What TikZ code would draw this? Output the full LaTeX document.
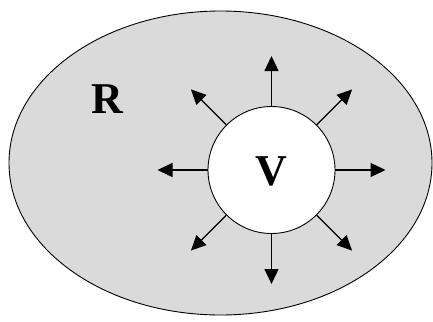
\documentclass[tikz,border=0pt]{standalone}
\usepackage{fontspec}
\setmainfont{Liberation Serif}
\usetikzlibrary{arrows.meta,calc}
\begin{document}
\begin{tikzpicture}[x=1pt,y=-1pt,
  ray/.style={line width=1.3pt,-{Triangle[length=15pt,width=14pt]}},
  lbl/.style={font=\bfseries\fontsize{44}{44}\selectfont,inner sep=0pt}]
\useasboundingbox (0,0) rectangle (433,321);
\draw[line width=0.9pt,fill={rgb,255:red,218;green,218;blue,218}] (220.5,163) ellipse[x radius=211.5pt,y radius=152pt];
\node[lbl] (R) at (107,99) {R};
\node[circle,draw,line width=0.9pt,fill=white,minimum size=127pt,inner sep=0pt] (V) at (271.5,170) {};
\node[lbl] (Vt) at (271.5,171) {V};
\foreach \a in {0,45,...,315}{
  \coordinate (t\a) at ($(V.center)+(\a:114pt)$);
}
\foreach \a in {0,45,...,315}{
  \draw[ray] (V.\a) -- (t\a);
}
\end{tikzpicture}
\end{document}
